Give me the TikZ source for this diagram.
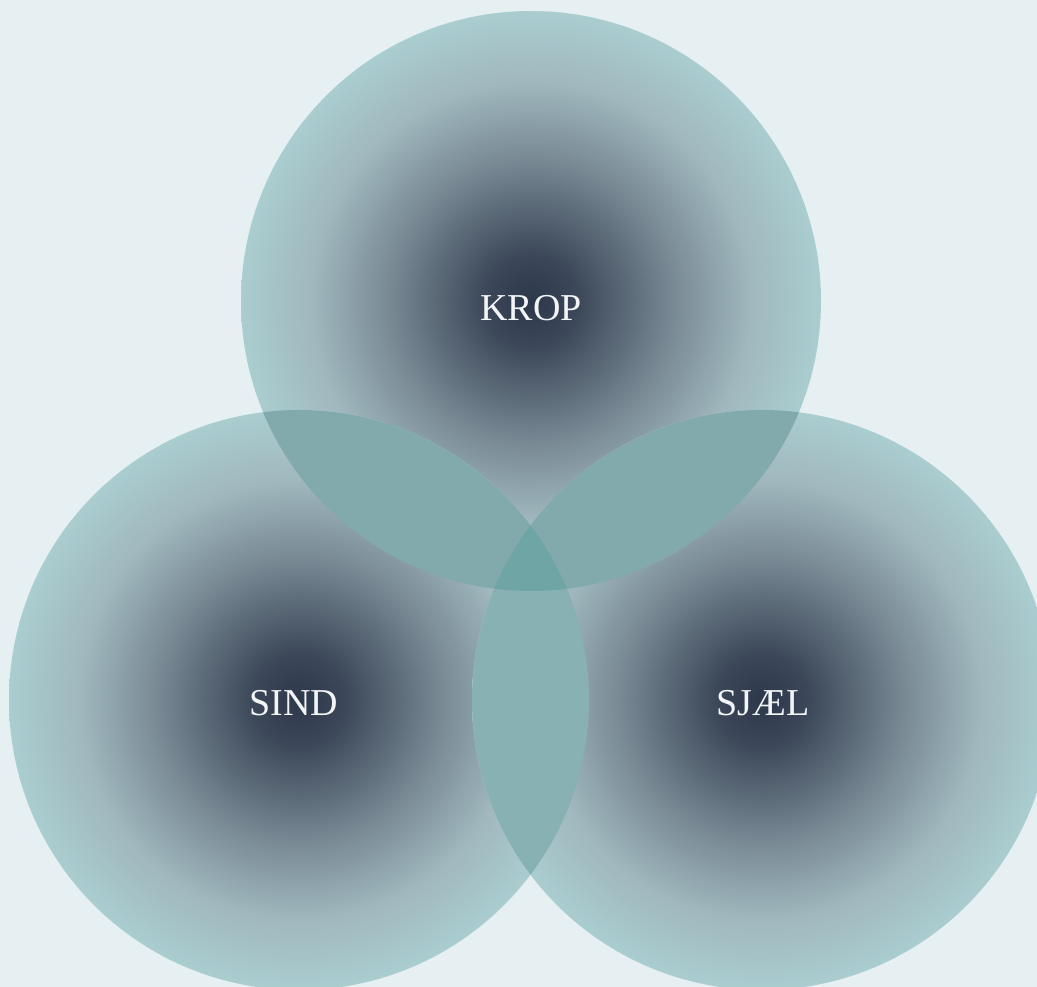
\documentclass[tikz,border=0pt]{standalone}
\usepackage{fontspec}
\setmainfont{Liberation Serif}
\definecolor{bg}{HTML}{E6EFF1}
\definecolor{cA}{HTML}{2C384B}
\definecolor{cB}{HTML}{3C4859}
\definecolor{cC}{HTML}{7A8B96}
\definecolor{cD}{HTML}{A0B8BE}
\definecolor{cE}{HTML}{AACDD0}
\definecolor{pairc}{HTML}{82A9AC}
\definecolor{lensc}{HTML}{88B1B3}
\definecolor{triplec}{HTML}{6FA5A5}
\definecolor{txt}{HTML}{F2F4F6}
\pgfdeclareradialshading{venn}{\pgfpointorigin}{color(0bp)=(cA); color(4bp)=(cB); color(12.5bp)=(cC); color(19bp)=(cD); color(25bp)=(cE); color(50bp)=(cE)}
\tikzset{
  vennshade/.style={shading=venn},
  lbl/.style={text=txt, font=\fontsize{38}{42}\selectfont, inner sep=0pt}
}
\begin{document}
\begin{tikzpicture}[x=1pt,y=-1pt]
\fill[bg] (0,0) rectangle (1037,987);
\useasboundingbox (0,0) rectangle (1037,987);
\coordinate (ct) at (531,301);
\coordinate (cl) at (299,700);
\coordinate (cr) at (762,700);
\shade[vennshade] (ct) circle[radius=290];
\shade[vennshade] (cl) circle[radius=290];
\shade[vennshade] (cr) circle[radius=290];
\begin{scope}
  \clip (ct) circle[radius=290];
  \fill[pairc] (cl) circle[radius=290];
  \fill[pairc] (cr) circle[radius=290];
\end{scope}
\begin{scope}
  \clip (cl) circle[radius=290];
  \fill[lensc] (cr) circle[radius=290];
\end{scope}
\begin{scope}
  \clip (cl) circle[radius=290];
  \clip (cr) circle[radius=290];
  \fill[triplec] (ct) circle[radius=290];
\end{scope}
\node[lbl] (tkrop) at (531,308) {KROP};
\node[lbl] (tsind) at (294,703) {SIND};
\node[lbl] (tsjael) at (763,703) {SJÆL};
\end{tikzpicture}
\end{document}
